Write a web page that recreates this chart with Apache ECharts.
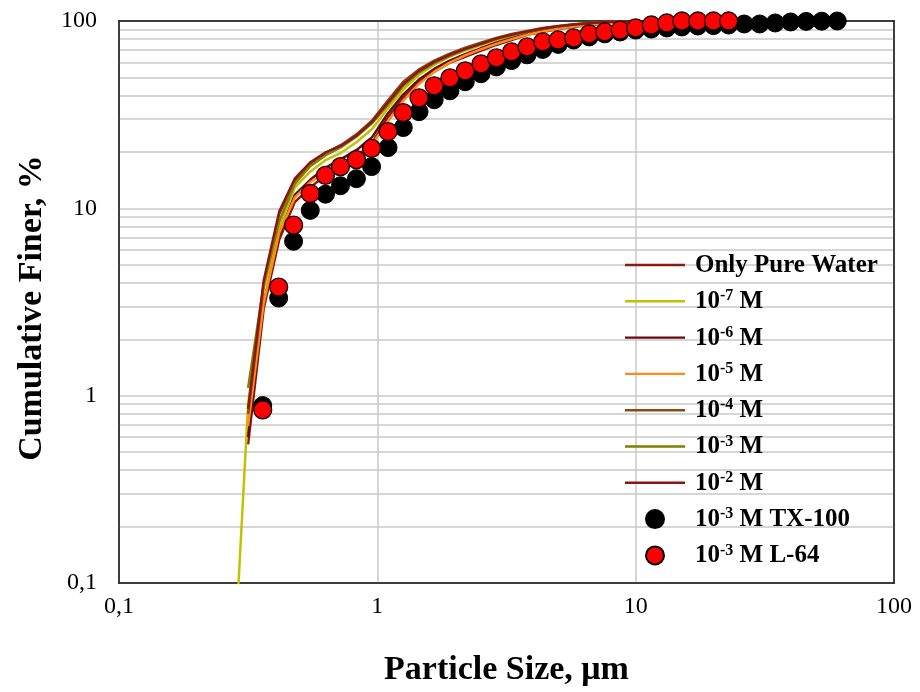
<!DOCTYPE html>
<html>
<head>
<meta charset="utf-8">
<script src="https://cdn.jsdelivr.net/npm/echarts@6/dist/echarts.min.js"></script>
<style>html,body{margin:0;padding:0;background:#fff}#c{width:920px;height:692px}</style>
</head>
<body>
<div id="c"></div>
<script>
// ---- data ----
const lineSizes = [0.275, 0.316, 0.363, 0.417, 0.479, 0.550, 0.631, 0.724, 0.832, 0.955, 1.096, 1.259, 1.445, 1.660, 1.905, 2.188, 2.512, 2.884, 3.311, 3.802, 4.365, 5.012, 5.754, 6.607, 7.586, 8.710, 10.0];

const pureWater = [null, 0.55, 2.9, 6.8, 10.8, 12.9, 15.1, 17.1, 18.9, 22.4, 30.5, 38.9, 46.8, 53.6, 59.8, 64.4, 69.2, 74.5, 79.2, 84.3, 87.4, 90.6, 92.9, 95.2, 96.9, 98.8, 100];
const m7 = [0.025, 0.9, 3.7, 7.9, 12.9, 15.7, 18.1, 19.8, 22.6, 26.5, 34, 43, 51.5, 58.5, 64.5, 69.5, 74.3, 79, 83.3, 86.8, 90, 92.6, 95, 96.8, 98.2, 99.3, 100];
const m6 = [null, 0.6, 3.1, 7.2, 11.8, 14.2, 16.5, 18.3, 20.5, 24, 32, 40.5, 48.5, 55.5, 61.5, 66.5, 71.5, 76.5, 81, 85.3, 88.4, 91.4, 93.6, 95.8, 97.3, 98.9, 100];
const m5 = [null, 0.69, 3.1, 7.4, 11.4, 13.8, 15.5, 16.7, 18.6, 22, 29, 37.5, 46, 53.5, 60, 65.5, 70.5, 75.5, 80, 84.5, 88, 91, 93.5, 95.5, 97.2, 98.7, 100];
const m4 = [null, 0.8, 3.9, 9.3, 14.0, 17.3, 19.8, 21.8, 24.9, 29.5, 37.5, 47.4, 55, 61.5, 67, 72, 76.5, 81.3, 85.3, 88.5, 91.8, 94, 96, 97.6, 98.8, 99.5, 100];
const m3 = [null, 1.1, 3.9, 8.5, 13.5, 16.8, 19.2, 21.2, 24.2, 28.5, 35.5, 45, 53, 59.5, 65, 70.5, 75, 80, 84, 87.5, 91, 93.5, 95.5, 97.2, 98.5, 99.4, 100];
const m2 = [null, 0.85, 4.1, 9.6, 14.4, 17.6, 19.9, 21.6, 24.5, 29, 36.5, 46, 54, 60.5, 66, 71, 75.5, 80.5, 84.6, 88, 91.3, 93.7, 95.7, 97.4, 98.7, 99.5, 100];

const markerSizes = [0.36, 0.415, 0.474, 0.55, 0.63, 0.72, 0.83, 0.95, 1.10, 1.26, 1.45, 1.66, 1.91, 2.19, 2.52, 2.89, 3.31, 3.80, 4.37, 5.01, 5.75, 6.61, 7.59, 8.71, 10.0, 11.5, 13.2, 15.1, 17.4, 20.0, 22.9, 26.3, 30.2, 34.7, 39.8, 45.7, 52.5, 60.3];
const tx100 = [0.885, 3.32, 6.67, 9.75, 11.9, 13.2, 14.4, 16.7, 21.1, 27.0, 32.8, 38.0, 42.4, 47.4, 52.3, 56.9, 61.5, 66.0, 70.5, 75.0, 79.2, 82.2, 85.4, 87.4, 89.5, 90.6, 91.8, 92.9, 94.0, 94.5, 95.2, 96.4, 96.4, 97.6, 98.8, 99.5, 99.8, 100];
const l64 = [0.84, 3.80, 8.13, 12.0, 15.0, 16.7, 18.2, 20.9, 25.7, 32.4, 38.9, 45.1, 49.7, 54.2, 59.0, 63.5, 68.4, 72.7, 77.3, 79.2, 81.3, 85.3, 87.4, 89.5, 91.8, 95.2, 97.6, 100, 100, 100, 100];

const yTicks = [0.1, 1, 10, 100];
const xTicks = [0.1, 1, 10, 100];
const minorGrid = [0.2, 0.3, 0.4, 0.5, 0.6, 0.7, 0.8, 0.9, 2, 3, 4, 5, 6, 7, 8, 9, 20, 30, 40, 50, 60, 70, 80, 90];

const seriesNames = ['Only Pure Water', '10-7 M', '10-6 M', '10-5 M', '10-4 M', '10-3 M', '10-2 M', '10-3 M TX-100', '10-3 M L-64'];
const lineColors = ['#8C1A14', '#C2C200', '#6A0A0A', '#FF8C1A', '#8B4A12', '#808000', '#8A1616'];
const lineData = [pureWater, m7, m6, m5, m4, m3, m2];

// ---- chart ----
const pair = (xs, ys) => xs.map((x, i) => [x, ys[i]]).filter(p => p[1] !== null && p[1] !== undefined);
const fmt = v => String(v).replace('.', ',');
const serif = '"Liberation Serif", "Times New Roman", serif';

const series = [];
series.push({
  type: 'line', name: '_grid', data: [], silent: true, z: 0,
  markLine: {
    silent: true, symbol: 'none', animation: false, z: 0,
    label: { show: false },
    lineStyle: { color: '#C8C8C8', width: 1.5, type: 'solid' },
    data: minorGrid.map(v => ({ yAxis: v }))
  }
});
lineData.forEach((d, i) => {
  series.push({
    type: 'line', name: seriesNames[i], data: pair(lineSizes, d),
    symbol: 'none', showSymbol: false, z: 3,
    lineStyle: { color: lineColors[i], width: 2.5 },
    itemStyle: { color: lineColors[i] },
    clip: true, animation: false
  });
});
series.push({
  type: 'scatter', name: seriesNames[7], data: pair(markerSizes, tx100),
  symbol: 'circle', symbolSize: 18, clip: false, z: 5, animation: false,
  itemStyle: { color: '#000000', borderColor: '#000000', borderWidth: 1, opacity: 1 }
});
series.push({
  type: 'scatter', name: seriesNames[8], data: pair(markerSizes.slice(0, l64.length), l64),
  symbol: 'circle', symbolSize: 18, clip: false, z: 6, animation: false,
  itemStyle: { color: '#FF0000', borderColor: '#000000', borderWidth: 1.3, opacity: 1 }
});

const legendRich = {
  b: { fontFamily: serif, fontWeight: 'bold', fontSize: 25, color: '#000', lineHeight: 26, verticalAlign: 'bottom' },
  s: { fontFamily: serif, fontWeight: 'bold', fontSize: 16, color: '#000', lineHeight: 26, verticalAlign: 'top', padding: [0, 0, 10, 0] }
};
function legendFmt(name) {
  const m = name.match(/^10(-\d) (.*)$/);
  if (!m) return '{b|' + name + '}';
  return '{b|10}{s|' + m[1] + '}{b| ' + m[2] + '}';
}
// thin horizontal stripe inside a 60x18 box (tiny corner specks keep the box size)
const lineIcon = 'path://M0,0 L0.02,0 L0.02,0.02 Z M0,7.8 L60,7.8 L60,10.2 L0,10.2 Z M59.98,17.98 L60,17.98 L60,18 Z';
const legendData = seriesNames.map((n, i) => i < 7 ? { name: n, icon: lineIcon } : { name: n, icon: 'circle' });

const option = {
  backgroundColor: '#ffffff',
  animation: false,
  grid: { left: 119, right: 26, top: 21, bottom: 107, show: true, borderColor: '#1a1a1a', borderWidth: 1.5, backgroundColor: '#fff' },
  legend: {
    data: legendData, orient: 'vertical', left: 620, top: 248, z: 20,
    itemWidth: 60, itemHeight: 18, itemGap: 10.3,
    formatter: legendFmt,
    textStyle: { rich: legendRich, padding: [0, 0, 0, 5] },
    selectedMode: false
  },
  xAxis: [{
    type: 'log', logBase: 10, min: 0.1, max: 100,
    name: 'Particle Size, μm', nameLocation: 'middle', nameGap: 70,
    nameTextStyle: { fontFamily: serif, fontWeight: 'bold', fontSize: 34, color: '#000' },
    axisLine: { show: true, lineStyle: { color: '#1a1a1a', width: 1.5 } },
    axisTick: { show: false },
    axisLabel: { fontFamily: serif, fontSize: 24, color: '#000', margin: 12, formatter: fmt, showMinLabel: true, showMaxLabel: true },
    splitLine: { show: true, lineStyle: { color: '#C8C8C8', width: 1.5 } },
    minorTick: { show: false }, minorSplitLine: { show: false }
  }, {
    type: 'log', logBase: 10, min: 0.1, max: 100, position: 'top',
    axisLine: { show: true, lineStyle: { color: '#1a1a1a', width: 1.5 } },
    axisTick: { show: false }, axisLabel: { show: false }, splitLine: { show: false }
  }],
  yAxis: [{
    type: 'log', logBase: 10, min: 0.1, max: 100,
    name: 'Cumulative Finer, %', nameLocation: 'middle', nameGap: 70, nameRotate: 90,
    nameTextStyle: { fontFamily: serif, fontWeight: 'bold', fontSize: 34, color: '#000', padding: [0, 12, 0, 0] },
    axisLine: { show: true, lineStyle: { color: '#1a1a1a', width: 1.5 } },
    axisTick: { show: false },
    axisLabel: { fontFamily: serif, fontSize: 24, color: '#000', margin: 22, formatter: fmt, showMinLabel: true, showMaxLabel: true },
    splitLine: { show: true, lineStyle: { color: '#C8C8C8', width: 1.5 } },
    minorTick: { show: false }, minorSplitLine: { show: false }
  }, {
    type: 'log', logBase: 10, min: 0.1, max: 100, position: 'right',
    axisLine: { show: true, lineStyle: { color: '#1a1a1a', width: 1.5 } },
    axisTick: { show: false }, axisLabel: { show: false }, splitLine: { show: false }
  }],
  series: series
};

const chart = echarts.init(document.getElementById('c'), null, { renderer: 'canvas' });
chart.setOption(option);
</script>
</body>
</html>
